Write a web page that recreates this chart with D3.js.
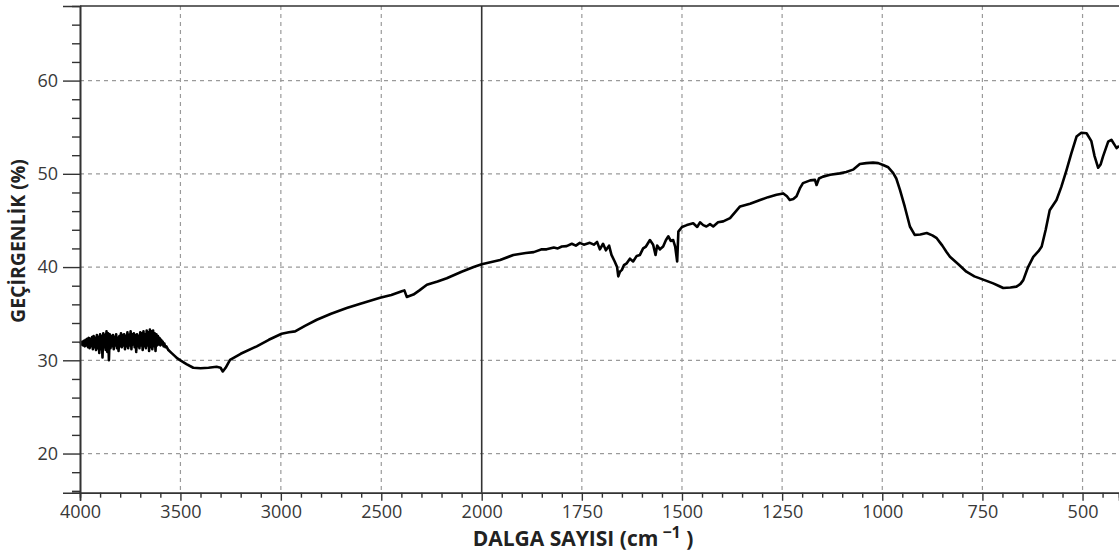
<!DOCTYPE html>
<html>
<head>
<meta charset="utf-8">
<script src="https://cdn.jsdelivr.net/npm/d3@7/dist/d3.min.js"></script>
<style>
  html, body { margin: 0; padding: 0; background: #fff; }
  svg { display: block; }
  .tick text { font-family: "Open Sans", "Noto Sans", sans-serif; fill: #383838; }
</style>
</head>
<body>
<svg id="chart" width="1119" height="556"></svg>
<script>
// FT-IR transmittance spectrum (wavenumber in cm^-1, transmittance in %)
const wavenumber = [
  4000, 3996, 3992, 3988, 3984, 3980, 3976, 3972, 3968, 3964, 3960, 3956, 3952, 3948, 3944, 3940,
  3936, 3932, 3928, 3924, 3920, 3916, 3912, 3908, 3904, 3900, 3896, 3892, 3888, 3884, 3880, 3876,
  3872, 3868, 3864, 3860, 3856, 3852, 3848, 3844, 3840, 3836, 3832, 3828, 3824, 3820, 3816, 3812,
  3808, 3804, 3800, 3796, 3792, 3788, 3784, 3780, 3776, 3772, 3768, 3764, 3760, 3756, 3752, 3748,
  3744, 3740, 3736, 3732, 3728, 3724, 3720, 3716, 3712, 3708, 3704, 3700, 3696, 3692, 3688, 3684,
  3680, 3676, 3672, 3668, 3664, 3660, 3656, 3652, 3648, 3644, 3640, 3636, 3632, 3628, 3624, 3620,
  3616, 3612, 3608, 3604, 3600, 3596, 3592, 3588, 3584, 3580, 3575, 3570, 3560, 3545, 3530, 3515,
  3500, 3470, 3436, 3400, 3360, 3320, 3300, 3289, 3275, 3253, 3200, 3120, 3060, 2996, 2960, 2929,
  2880, 2821, 2750, 2672, 2600, 2506, 2450, 2398, 2385, 2373, 2360, 2340, 2310, 2273, 2220, 2174,
  2100, 2040, 2000, 1954, 1921, 1890, 1870, 1850, 1838, 1820, 1810, 1800, 1788, 1775, 1765, 1755,
  1745, 1730, 1720, 1712, 1705, 1697, 1690, 1682, 1676, 1668, 1662, 1659, 1655, 1650, 1645, 1638,
  1630, 1622, 1613, 1605, 1597, 1590, 1580, 1572, 1566, 1562, 1555, 1547, 1540, 1534, 1528, 1522,
  1517, 1512, 1509, 1500, 1488, 1472, 1462, 1455, 1447, 1439, 1430, 1422, 1410, 1397, 1380, 1355,
  1330, 1305, 1285, 1264, 1247, 1238, 1231, 1222, 1214, 1205, 1198, 1180, 1168, 1164, 1158, 1148,
  1130, 1106, 1090, 1073, 1056, 1040, 1023, 1010, 998, 985, 973, 965, 956, 944, 931, 919,
  905, 889, 875, 864, 850, 840, 831, 810, 790, 770, 748, 723, 710, 698, 680, 665,
  655, 648, 636, 623, 610, 602, 592, 582, 565, 553, 540, 528, 515, 503, 490, 478,
  470, 461, 455, 449, 436, 428, 420, 415, 409
];
const transmittance = [
  31.8, 31.9, 31.7, 32.0, 31.6, 32.1, 31.5, 32.2, 31.6, 32.3, 31.4, 32.4, 31.3, 32.3, 31.5, 32.5,
  31.2, 32.6, 31.4, 32.4, 31.1, 32.7, 31.3, 32.5, 30.8, 32.8, 31.2, 32.6, 30.3, 32.9, 31.4, 32.7,
  31.1, 33.1, 30.9, 32.9, 30.0, 32.8, 31.3, 32.6, 31.5, 32.7, 31.2, 32.5, 31.6, 32.8, 31.3, 32.4,
  31.0, 32.6, 31.5, 32.9, 31.4, 32.7, 31.6, 32.8, 31.2, 32.6, 31.5, 33.0, 31.3, 32.7, 31.6, 33.1,
  31.2, 32.8, 31.7, 32.9, 31.4, 32.7, 30.9, 32.8, 31.5, 32.6, 31.3, 33.0, 31.6, 32.9, 31.1, 33.1,
  31.5, 32.8, 31.3, 33.2, 31.6, 33.0, 31.0, 33.3, 31.4, 33.1, 31.2, 33.2, 31.5, 32.9, 31.0, 32.8,
  31.6, 32.6, 31.7, 32.4, 31.6, 32.2, 31.7, 32.0, 31.5, 31.8, 31.4, 31.5, 31.1, 30.8, 30.5, 30.2,
  30.0, 29.6, 29.2, 29.15, 29.2, 29.3, 29.2, 28.8, 29.2, 30.05, 30.7, 31.5, 32.2, 32.85, 33.0, 33.1,
  33.7, 34.35, 35.0, 35.6, 36.1, 36.7, 37.0, 37.4, 37.5, 36.8, 36.9, 37.05, 37.5, 38.1, 38.45, 38.8,
  39.5, 40.0, 40.3, 40.75, 41.3, 41.5, 41.6, 41.9, 41.9, 42.1, 42.0, 42.2, 42.25, 42.5, 42.3, 42.6,
  42.4, 42.6, 42.4, 42.7, 41.9, 42.5, 41.8, 42.3, 41.3, 40.6, 40.0, 39.0, 39.5, 39.7, 40.2, 40.4,
  40.9, 40.6, 41.2, 41.3, 42.0, 42.2, 42.9, 42.4, 41.3, 42.3, 41.9, 42.2, 42.9, 43.3, 42.8, 42.9,
  42.2, 40.6, 43.8, 44.3, 44.5, 44.7, 44.3, 44.8, 44.5, 44.35, 44.6, 44.35, 44.8, 44.9, 45.25, 46.5,
  46.8, 47.2, 47.5, 47.75, 47.9, 47.6, 47.2, 47.3, 47.6, 48.5, 49.0, 49.3, 49.35, 48.8, 49.5, 49.7,
  49.9, 50.05, 50.2, 50.45, 51.05, 51.15, 51.2, 51.15, 50.95, 50.7, 50.1, 49.5, 48.3, 46.5, 44.35, 43.45,
  43.5, 43.65, 43.4, 43.1, 42.3, 41.65, 41.1, 40.3, 39.5, 39.0, 38.65, 38.25, 38.0, 37.75, 37.8, 37.9,
  38.2, 38.6, 40.0, 41.1, 41.7, 42.2, 44.0, 46.1, 47.2, 48.6, 50.4, 52.2, 54.0, 54.4, 54.35, 53.5,
  51.9, 50.65, 51.0, 51.85, 53.45, 53.65, 53.1, 52.75, 53.0
];

// Axis ticks: the wavenumber axis switches scale at 2000 cm^-1
const xMajorTicks = [4000, 3500, 3000, 2500, 2000, 1750, 1500, 1250, 1000, 750, 500];
const xMinorTicks = [
  3900, 3800, 3700, 3600, 3400, 3300, 3200, 3100, 2900, 2800, 2700, 2600, 2400, 2300, 2200, 2100,
  1950, 1900, 1850, 1800, 1700, 1650, 1600, 1550, 1450, 1400, 1350, 1300, 1200, 1150, 1100, 1050,
  950, 900, 850, 800, 700, 650, 600, 550, 450
];
const yMajorTicks = [20, 30, 40, 50, 60];
const yMinorTicks = [16, 18, 22, 24, 26, 28, 32, 34, 36, 38, 42, 44, 46, 48, 52, 54, 56, 58, 62, 64, 66];
const splitWavenumber = 2000;

const svg = d3.select("#chart");
const plotLeft = 80, plotRight = 1119, plotTop = 6, plotBottom = 492.7;

const x = d3.scaleLinear().domain([4000, 2000, 409]).range([plotLeft, 481.7, plotRight]);
const y = d3.scaleLinear().domain([15.8, 68.0]).range([plotBottom, plotTop]);

// Grid
const grid = svg.append("g");
grid.selectAll("line.gx")
  .data(xMajorTicks.filter(d => d !== 4000 && d !== splitWavenumber))
  .join("line")
  .attr("x1", d => x(d)).attr("x2", d => x(d))
  .attr("y1", plotTop).attr("y2", plotBottom)
  .attr("stroke", "#9a9a9a").attr("stroke-width", 1.2)
  .attr("stroke-dasharray", "4,4");
grid.selectAll("line.gy")
  .data(yMajorTicks)
  .join("line")
  .attr("x1", plotLeft).attr("x2", plotRight)
  .attr("y1", d => y(d)).attr("y2", d => y(d))
  .attr("stroke", "#9a9a9a").attr("stroke-width", 1.2)
  .attr("stroke-dasharray", "4,4");

// Solid divider at the scale change
svg.append("line")
  .attr("x1", x(splitWavenumber)).attr("x2", x(splitWavenumber))
  .attr("y1", plotTop).attr("y2", plotBottom)
  .attr("stroke", "#333").attr("stroke-width", 1.6);

// Top frame line
svg.append("line")
  .attr("x1", plotLeft).attr("x2", plotRight)
  .attr("y1", plotTop).attr("y2", plotTop)
  .attr("stroke", "#333").attr("stroke-width", 1.6);

// Spectrum
const pts = wavenumber.map((w, i) => [w, transmittance[i]]);
svg.append("path")
  .datum(pts)
  .attr("fill", "none")
  .attr("stroke", "#000")
  .attr("stroke-width", 2.6)
  .attr("stroke-linejoin", "round")
  .attr("d", d3.line().x(d => x(d[0])).y(d => y(d[1])));

// X axis
const xAxisMinor = svg.append("g").attr("transform", `translate(0,${plotBottom})`)
  .call(d3.axisBottom(x).tickValues(xMinorTicks).tickSize(5).tickFormat(""));
const xAxis = svg.append("g").attr("transform", `translate(0,${plotBottom})`)
  .call(d3.axisBottom(x).tickValues(xMajorTicks).tickSize(8).tickPadding(5).tickFormat(d3.format("d")));
[xAxisMinor, xAxis].forEach(g => {
  g.select(".domain").attr("stroke", "#333").attr("stroke-width", 1.6);
  g.selectAll(".tick line").attr("stroke", "#333").attr("stroke-width", 1.4);
});
xAxis.selectAll(".tick text").attr("font-size", 18);

// Y axis
const yAxisMinor = svg.append("g").attr("transform", `translate(${plotLeft},0)`)
  .call(d3.axisLeft(y).tickValues(yMinorTicks).tickSize(8).tickFormat(""));
const yAxis = svg.append("g").attr("transform", `translate(${plotLeft},0)`)
  .call(d3.axisLeft(y).tickValues(yMajorTicks).tickSize(17).tickPadding(5).tickFormat(d3.format("d")));
[yAxisMinor, yAxis].forEach(g => {
  g.select(".domain").attr("stroke", "#333").attr("stroke-width", 1.6);
  g.selectAll(".tick line").attr("stroke", "#333").attr("stroke-width", 1.4);
});
yAxis.selectAll(".tick text").attr("font-size", 18);

// Axis titles
const xTitle = svg.append("text")
  .attr("x", 583).attr("y", 546)
  .attr("text-anchor", "middle")
  .attr("font-family", "'Open Sans', 'Noto Sans', sans-serif")
  .attr("font-weight", "bold")
  .attr("font-size", 21)
  .attr("fill", "#222");
xTitle.append("tspan").text("DALGA SAYISI (cm");
xTitle.append("tspan").attr("dy", -8).attr("font-size", 16).text(" \u22121");
xTitle.append("tspan").attr("dy", 8).text(" )");

svg.append("text")
  .attr("transform", "translate(25,241) rotate(-90)")
  .attr("text-anchor", "middle")
  .attr("font-family", "'Open Sans', 'Noto Sans', sans-serif")
  .attr("font-weight", "bold")
  .attr("font-size", 19.5)
  .attr("fill", "#222")
  .text("GEÇİRGENLİK (%)");
</script>
</body>
</html>
